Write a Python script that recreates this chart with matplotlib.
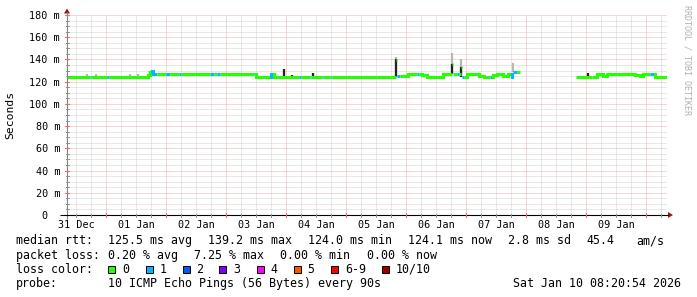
import matplotlib
matplotlib.use("Agg")
import matplotlib.pyplot as plt
import matplotlib.dates as mdates
import numpy as np
import pandas as pd
from matplotlib.patches import Rectangle, Polygon

# ---------------- data ----------------
START = "2025-12-31 08:20:54"
END = "2026-01-10 08:20:54"

med_times = [
    "2025-12-31 08:21", "2025-12-31 17:33", "2025-12-31 17:57",
    "2026-01-01 00:21", "2026-01-01 01:09", "2026-01-01 16:45", "2026-01-01 17:33",
    "2026-01-01 18:09", "2026-01-01 18:45", "2026-01-01 20:21", "2026-01-01 23:57",
    "2026-01-02 01:33", "2026-01-02 05:09", "2026-01-02 05:57", "2026-01-02 17:33",
    "2026-01-02 19:09", "2026-01-02 20:21", "2026-01-02 21:33",
    "2026-01-03 11:09", "2026-01-03 11:57", "2026-01-03 17:57", "2026-01-03 19:09",
    "2026-01-04 05:09", "2026-01-04 05:57", "2026-01-04 09:33", "2026-01-04 09:57",
    "2026-01-04 14:21", "2026-01-04 14:45", "2026-01-04 17:33", "2026-01-04 17:57",
    "2026-01-05 19:57", "2026-01-05 20:21", "2026-01-05 21:33",
    "2026-01-06 00:45", "2026-01-06 04:21", "2026-01-06 05:09", "2026-01-06 06:21",
    "2026-01-06 08:21", "2026-01-06 14:45", "2026-01-06 18:21", "2026-01-06 18:45",
    "2026-01-06 20:21", "2026-01-06 21:09", "2026-01-06 21:57", "2026-01-06 22:21",
    "2026-01-06 23:09",
    "2026-01-07 00:21", "2026-01-07 05:09", "2026-01-07 07:09", "2026-01-07 09:33",
    "2026-01-07 10:45", "2026-01-07 12:21", "2026-01-07 14:45", "2026-01-07 16:45",
    "2026-01-07 18:21", "2026-01-07 18:45", "2026-01-07 20:21", "2026-01-07 21:33",
    "2026-01-08 19:57",
    "2026-01-09 02:21", "2026-01-09 04:21", "2026-01-09 06:45", "2026-01-09 08:21",
    "2026-01-09 19:33", "2026-01-09 21:33", "2026-01-09 22:45",
    "2026-01-10 01:33", "2026-01-10 03:33",
]
med_values = [
    124.3, 124.3, 124.3,
    124.3, 124.3, 126.0, 128.8,
    129.8, 127.0, 127.0, 127.0,
    127.0, 127.0, 127.0, 127.0,
    127.0, 127.0, 127.0,
    127.0, 124.3, 126.5, 124.3,
    124.3, 124.3, 124.3, 124.3,
    124.3, 124.3, 124.3, 124.3,
    139.2, 125.3, 124.9,
    127.0, 127.0, 127.0, 125.8,
    124.3, 127.0, 135.5, 127.0,
    127.0, 127.0, 133.0, 123.9,
    124.3,
    127.0, 124.9, 124.3, 124.3,
    125.8, 127.0, 124.9, 126.8,
    124.3, 128.5, 128.5, np.nan,
    124.3,
    124.0, 127.0, 125.5, 127.0,
    125.8, 124.9, 127.0,
    127.0, 124.2,
]
med_loss = [
    0, 1, 0,
    1, 0, 0, 0,
    1, 1, 0, 1,
    0, 1, 0, 1,
    0, 1, 0,
    1, 0, 1, 0,
    1, 0, 1, 0,
    1, 0, 1, 0,
    0, 1, 0,
    0, 1, 0, 0,
    0, 0, 0, 0,
    1, 0, 0, 1,
    0,
    0, 0, 0, 1,
    0, 0, 0, 0,
    1, 1, 0, 0,
    0,
    0, 0, 0, 0,
    0, 0, 0,
    1, 0,
]

smoke_times = [
    "2025-12-31 16:21", "2025-12-31 19:57", "2026-01-01 09:33", "2026-01-01 12:45",
    "2026-01-01 17:33", "2026-01-03 22:57", "2026-01-04 02:21", "2026-01-04 10:45",
    "2026-01-05 19:57", "2026-01-06 18:21", "2026-01-06 21:57", "2026-01-07 18:45",
    "2026-01-09 00:45", "2026-01-09 19:33",
]
smoke_low = [124.3, 124.3, 124.3, 124.3, 125.0, 124.3, 124.3, 124.3,
             124.3, 127.0, 124.3, 128.5, 124.3, 125.0]
smoke_dark = [124.3, 124.3, 124.3, 124.3, 129.5, 131.2, 126.3, 127.5,
              140.0, 135.7, 133.0, 128.5, 128.0, 127.3]
smoke_light = [126.5, 126.5, 126.5, 126.5, 129.5, 131.2, 126.3, 127.5,
               142.6, 145.6, 140.8, 136.6, 128.0, 127.3]

loss_labels = ["0", "1", "2", "3", "4", "5", "6-9", "10/10"]
loss_colors = ["#26ff00", "#00b8ff", "#0059ff", "#7e00ff", "#ff00ff",
               "#ff5500", "#ff0000", "#a10000"]

y_ticks = [0, 20, 40, 60, 80, 100, 120, 140, 160, 180]
y_tick_labels = ["0  ", "20 m", "40 m", "60 m", "80 m", "100 m", "120 m",
                 "140 m", "160 m", "180 m"]
x_tick_times = ["2025-12-31 12:00", "2026-01-01 12:00", "2026-01-02 12:00",
                "2026-01-03 12:00", "2026-01-04 12:00", "2026-01-05 12:00",
                "2026-01-06 12:00", "2026-01-07 12:00", "2026-01-08 12:00",
                "2026-01-09 12:00"]
x_tick_labels = ["31 Dec", "01 Jan", "02 Jan", "03 Jan", "04 Jan", "05 Jan",
                 "06 Jan", "07 Jan", "08 Jan", "09 Jan"]

stats_rtt = ["125.5 ms avg", "139.2 ms max", "124.0 ms min", "124.1 ms now",
             "2.8 ms sd", "45.4", "am/s"]
stats_loss = ["0.20 % avg", "7.25 % max", "0.00 % min", "0.00 % now"]
probe_text = "10 ICMP Echo Pings (56 Bytes) every 90s"
date_text = "Sat Jan 10 08:20:54 2026"

# ---------------- layout ----------------
W, H = 697, 297
MONO = "DejaVu Sans Mono"
X0, X1 = 67, 667          # plot area x pixels
Y0, Y1 = 215, 15          # plot area y pixels (bottom, top)

fig = plt.figure(figsize=(W / 100, H / 100), dpi=100)
fig.patch.set_facecolor("white")

ax = fig.add_axes([X0 / W, (H - Y0) / H, (X1 - X0) / W, (Y0 - Y1) / H])
ax.set_facecolor("white")
t0 = mdates.date2num(pd.Timestamp(START))
t1 = mdates.date2num(pd.Timestamp(END))
ax.set_xlim(t0, t1)
ax.set_ylim(0, 180)
for s in ax.spines.values():
    s.set_visible(False)
ax.set_xticks([])
ax.set_yticks([])

# grid (light dotted lines)
minor_c = "#d2d2d2"
major_c = "#e8b0b0"
dot = (0, (1, 1))
gkw = dict(lw=0.72, ls=dot)
for v in np.arange(5, 181, 5):
    if v % 20 == 0:
        continue
    ax.axhline(v, color=minor_c, zorder=1, **gkw)
for v in range(20, 181, 20):
    ax.axhline(v, color=major_c, zorder=1.1, **gkw)
grid_times = pd.date_range("2025-12-31 12:00", "2026-01-10 06:00", freq="6h")
for gt in grid_times:
    xv = mdates.date2num(gt)
    if gt.hour == 0:
        ax.axvline(xv, color=major_c, zorder=1.1, **gkw)
    else:
        ax.axvline(xv, color=minor_c, zorder=1, **gkw)

# smoke
st = mdates.date2num(pd.to_datetime(smoke_times))
ax.vlines(st, smoke_low, smoke_light, color="#b8b8b8", lw=1.6, zorder=2)
ax.vlines(st, smoke_low, smoke_dark, color="#222222", lw=1.6, zorder=2.1)

# median line coloured by loss
mt = mdates.date2num(pd.to_datetime(med_times))
mt_end = np.append(mt[1:], t1)
lw_med = 2.2
for i in range(len(mt)):
    v = med_values[i]
    if np.isnan(v):
        continue
    c = loss_colors[med_loss[i]]
    ax.plot([mt[i], mt_end[i]], [v, v], color=c, lw=lw_med,
            solid_capstyle="butt", zorder=3)
    if i > 0 and not np.isnan(med_values[i - 1]):
        pv = med_values[i - 1]
        if abs(pv - v) <= 4:
            ax.plot([mt[i], mt[i]], [pv, v], color=c, lw=lw_med,
                    solid_capstyle="projecting", zorder=3)

# ---------------- overlay in pixel coordinates ----------------
ov = fig.add_axes([0, 0, 1, 1], facecolor="none")
ov.set_xlim(0, W)
ov.set_ylim(H, 0)
ov.axis("off")


def ypx(v):
    return Y0 - v * (Y0 - Y1) / 180.0


def xpx(tnum):
    return X0 + (tnum - t0) / (t1 - t0) * (X1 - X0)


# axes lines
ov.plot([X0, X0], [Y0 + 4, 12], color="#808080", lw=0.8, solid_capstyle="butt")
ov.plot([60, X1 + 1], [Y0, Y0], color="#000000", lw=0.8, solid_capstyle="butt")
arrow_c = "#a01010"
ov.add_patch(Polygon([[X0 - 3, 13.5], [X0 + 3, 13.5], [X0, 8.5]], closed=True,
                     color=arrow_c, lw=0))
ov.add_patch(Polygon([[X1 + 1, Y0 - 3], [X1 + 1, Y0 + 3], [X1 + 6, Y0]],
                     closed=True, color=arrow_c, lw=0))

# y tick marks and labels
for v in np.arange(5, 181, 5):
    yy = ypx(v)
    if v % 20 == 0:
        ov.plot([X0 - 2, X0 + 2], [yy, yy], color="#e07070", lw=0.8)
    else:
        ov.plot([X0 - 1.5, X0 + 1.5], [yy, yy], color="#909090", lw=0.7)
for v, lab in zip(y_ticks, y_tick_labels):
    ov.text(60, ypx(v), lab, ha="right", va="center_baseline",
            fontsize=7.3, family=MONO, color="#000000")

# x tick marks
for gt in grid_times:
    xx = xpx(mdates.date2num(gt))
    if gt.hour == 0:
        ov.plot([xx, xx], [Y0 - 2, Y0 + 2], color="#e07070", lw=0.8)
    else:
        ov.plot([xx, xx], [Y0 - 1.5, Y0 + 1.5], color="#909090", lw=0.7)
for tt, lab in zip(x_tick_times, x_tick_labels):
    ov.text(xpx(mdates.date2num(pd.Timestamp(tt))), 227.5, lab, ha="center",
            va="baseline", fontsize=7.3, family=MONO, color="#000000")

# axis title and watermark
ov.text(10, 115, "Seconds", rotation=90, ha="center", va="center",
        fontsize=8.2, family=MONO, color="#000000")
ov.text(687, 60, "RRDTOOL / TOBI OETIKER", rotation=270, ha="center",
        va="center", fontsize=6.0, family=MONO, color="#b0b0b0")

# footer
FS = 8.4
rows = [244.3, 258.7, 273.0, 287.4]
ov.text(16, rows[0], "median rtt:", fontsize=FS, family=MONO, va="baseline")
for xs, s in zip([107.7, 207.7, 307.7, 407.7, 507.7, 586.0, 636.0], stats_rtt):
    ov.text(xs, rows[0], s, fontsize=FS, family=MONO, va="baseline")
ov.text(16, rows[1], "packet loss:", fontsize=FS, family=MONO, va="baseline")
for xs, s in zip([107.7, 194.0, 280.3, 366.6], stats_loss):
    ov.text(xs, rows[1], s, fontsize=FS, family=MONO, va="baseline")
ov.text(16, rows[2], "loss color:", fontsize=FS, family=MONO, va="baseline")
box_x = [108.3, 145.7, 182.7, 219.3, 256.7, 294.0, 331.3, 381.7]
for bx, lab, col in zip(box_x, loss_labels, loss_colors):
    ov.add_patch(Rectangle((bx, 265.8), 6.8, 6.8, facecolor=col,
                           edgecolor="black", lw=0.7))
    ov.text(bx + 13.6, rows[2], lab, fontsize=FS, family=MONO, va="baseline")
ov.text(16, rows[3], "probe:", fontsize=FS, family=MONO, va="baseline")
ov.text(107.7, rows[3], probe_text, fontsize=FS, family=MONO, va="baseline")
ov.text(681, rows[3], date_text, fontsize=FS, family=MONO, va="baseline",
        ha="right")

fig.savefig("out.png", dpi=100, facecolor="white")
